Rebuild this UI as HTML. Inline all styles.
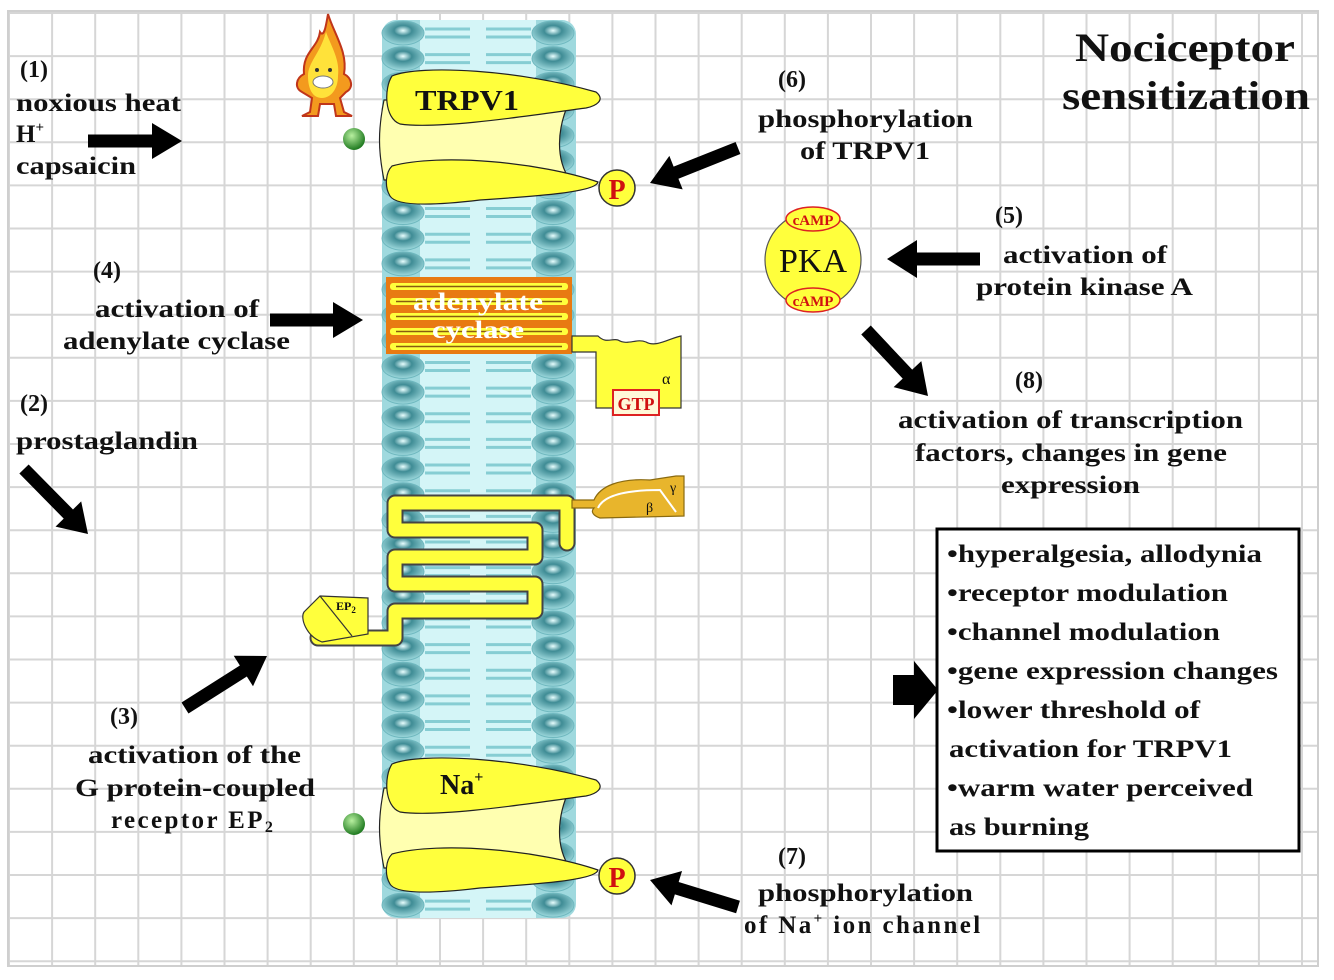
<!DOCTYPE html>
<html><head><meta charset="utf-8"><style>
html,body{margin:0;padding:0;background:#fff;}
svg{display:block;}
text{font-family:"Liberation Serif",serif;font-weight:bold;fill:#111;}
</style></head><body>
<svg id="s" width="1334" height="980" viewBox="0 0 1334 980" xmlns="http://www.w3.org/2000/svg">
<defs>
<radialGradient id="hd" cx="50%" cy="40%" r="60%">
<stop offset="0" stop-color="#e8ffff"/><stop offset="0.35" stop-color="#3f8c95"/><stop offset="1" stop-color="#9fdade"/>
</radialGradient>
<radialGradient id="gr" cx="40%" cy="35%" r="65%"><stop offset="0" stop-color="#b8f0a0"/><stop offset="1" stop-color="#1f7a20"/></radialGradient>
</defs>
<rect x="0" y="0" width="1334" height="980" fill="#fff"/>
<g id="grid" stroke="#d6d6d6" stroke-width="2"></g>
<rect x="8" y="11" width="1310" height="955" fill="none" stroke="#cfcfcf" stroke-width="2"/>

<rect x="382" y="20" width="194" height="898" rx="14" fill="#9fd9de"/>
<rect x="420" y="20" width="116" height="898" fill="#d4f5f7"/>
<g id="mem"></g>

<g transform="translate(288,12)">
<path d="M40,2 C46,22 60,40 56,62 C64,66 66,76 58,80 L52,86 L56,100 L64,104 L48,104 L46,92 L32,92 L30,104 L14,104 L22,100 L24,86 L14,80 C6,76 8,66 16,62 C14,40 30,36 32,20 C36,26 38,14 40,2Z" fill="#f39a1e" stroke="#c0351a" stroke-width="2"/>
<path d="M38,20 C44,36 52,48 50,64 C50,78 42,86 34,86 C24,86 20,76 20,64 C20,50 32,42 38,20Z" fill="#ffe23a"/>
<ellipse cx="35" cy="70" rx="10" ry="6" fill="#fff" stroke="#777"/>
<circle cx="29" cy="58" r="2" fill="#333"/><circle cx="42" cy="58" r="2" fill="#333"/>
</g>

<g id="ch1">
<path d="M384,100 L570,100 C556,130 556,160 570,180 L384,180 C378,150 378,130 384,100Z" fill="#ffffb0" stroke="#222" stroke-width="1.2"/>
<path d="M392,76 C420,64 520,70 596,92 C606,100 596,106 586,108 C540,114 440,130 400,124 C384,118 384,88 392,76Z" fill="#ffff3c" stroke="#222" stroke-width="1.2"/>
<path d="M392,166 C440,153 540,162 598,182 C596,192 540,196 480,200 C430,206 396,206 390,196 C384,186 386,172 392,166Z" fill="#ffff3c" stroke="#222" stroke-width="1.2"/>
<text x="415" y="110" font-size="28" textLength="104" lengthAdjust="spacingAndGlyphs">TRPV1</text>
<circle cx="617" cy="188" r="18" fill="#ffff3c" stroke="#333" stroke-width="1.5"/>
<text x="617" y="199" font-size="28" text-anchor="middle" style="fill:#d01010">P</text>
<circle cx="354" cy="139" r="11" fill="url(#gr)"/>
</g>
<g transform="translate(0,688)">
<path d="M384,100 L570,100 C556,130 556,160 570,180 L384,180 C378,150 378,130 384,100Z" fill="#ffffb0" stroke="#222" stroke-width="1.2"/>
<path d="M392,76 C420,64 520,70 596,92 C606,100 596,106 586,108 C540,114 440,130 400,124 C384,118 384,88 392,76Z" fill="#ffff3c" stroke="#222" stroke-width="1.2"/>
<path d="M392,166 C440,153 540,162 598,182 C596,192 540,196 480,200 C430,206 396,206 390,196 C384,186 386,172 392,166Z" fill="#ffff3c" stroke="#222" stroke-width="1.2"/>
<text x="440" y="106" font-size="28">Na<tspan font-size="16" dy="-12">+</tspan></text>
<circle cx="617" cy="188" r="18" fill="#ffff3c" stroke="#333" stroke-width="1.5"/>
<text x="617" y="199" font-size="28" text-anchor="middle" style="fill:#d01010">P</text>
<circle cx="354" cy="136" r="11" fill="url(#gr)"/>
</g>

<rect x="386" y="277" width="186" height="77" fill="#e87a12"/>
<g id="ac"></g>
<text x="478" y="310" font-size="25" text-anchor="middle" style="fill:#fff" textLength="130" lengthAdjust="spacingAndGlyphs">adenylate</text>
<text x="478" y="338" font-size="25" text-anchor="middle" style="fill:#fff" textLength="92" lengthAdjust="spacingAndGlyphs">cyclase</text>
<path d="M572,336 L598,336 C606,344 612,338 618,340 C628,346 636,338 646,342 C656,348 670,338 681,336 L681,408 L596,408 L596,352 L572,352Z" fill="#ffff3c" stroke="#333" stroke-width="1.2"/>
<text x="662" y="384" font-size="16" style="font-weight:normal">α</text>
<rect x="613" y="390" width="46" height="25" fill="#fff8d8" stroke="#d22" stroke-width="2"/>
<text x="636" y="410" font-size="18" text-anchor="middle" style="fill:#d01010">GTP</text>

<path d="M567,543 L567,503 L395,503 L395,530 L535,530 L535,557 L395,557 L395,584 L535,584 L535,611 L395,611 L395,638 L318,638" fill="none" stroke="#444" stroke-width="17" stroke-linejoin="round" stroke-linecap="round"/>
<path d="M567,543 L567,503 L395,503 L395,530 L535,530 L535,557 L395,557 L395,584 L535,584 L535,611 L395,611 L395,638 L318,638" fill="none" stroke="#ffff3c" stroke-width="13" stroke-linejoin="round" stroke-linecap="round"/>
<path d="M320,596 L368,598 L368,634 L322,642 C306,636 300,618 304,612Z" fill="#ffff3c" stroke="#333" stroke-width="1.2"/>
<path d="M320,596 L352,636" stroke="#333" stroke-width="1.2"/>
<text x="336" y="610" font-size="12">EP<tspan font-size="9" dy="3">2</tspan></text>
<path d="M572,500 L594,500 C600,486 620,478 650,480 L676,476 L684,476 L684,516 L600,518 C594,516 590,512 594,508 L572,508Z" fill="#e8b52c" stroke="#8a6a10" stroke-width="1.2"/>
<path d="M598,508 C604,494 630,490 660,490 L676,512" fill="none" stroke="#fff" stroke-width="2"/>
<text x="646" y="512" font-size="14" style="font-weight:normal">β</text>
<text x="670" y="492" font-size="14" style="font-weight:normal">γ</text>

<circle cx="813" cy="260" r="48" fill="#ffff3c" stroke="#555" stroke-width="1.2"/>
<ellipse cx="813" cy="219" rx="27" ry="12" fill="#ffff3c" stroke="#d22" stroke-width="1.5"/>
<ellipse cx="813" cy="300" rx="27" ry="12" fill="#ffff3c" stroke="#d22" stroke-width="1.5"/>
<text x="813" y="225" font-size="15" text-anchor="middle" style="fill:#d01010">cAMP</text>
<text x="813" y="306" font-size="15" text-anchor="middle" style="fill:#d01010">cAMP</text>
<text x="813" y="272" font-size="34" text-anchor="middle" style="font-weight:normal">PKA</text>

<g id="arrows" fill="#000"></g>
<rect x="937" y="529" width="362" height="322" fill="#fff" stroke="#000" stroke-width="3"/>

<g font-size="25">
<text x="20" y="77" font-size="24">(1)</text>
<text x="16" y="111" textLength="165" lengthAdjust="spacingAndGlyphs">noxious heat</text>
<text x="16" y="142">H<tspan font-size="15" dy="-10">+</tspan></text>
<text x="16" y="174" textLength="120" lengthAdjust="spacingAndGlyphs">capsaicin</text>
<text x="93" y="278" font-size="24">(4)</text>
<text x="95" y="317" textLength="164" lengthAdjust="spacingAndGlyphs">activation of</text>
<text x="63" y="349" textLength="227" lengthAdjust="spacingAndGlyphs">adenylate cyclase</text>
<text x="20" y="411" font-size="24">(2)</text>
<text x="16" y="449" textLength="182" lengthAdjust="spacingAndGlyphs">prostaglandin</text>
<text x="110" y="724" font-size="24">(3)</text>
<text x="88" y="763" textLength="213" lengthAdjust="spacingAndGlyphs">activation of the</text>
<text x="75" y="796" textLength="240" lengthAdjust="spacingAndGlyphs">G protein-coupled</text>
<text x="111" y="828" letter-spacing="2.4">receptor EP<tspan font-size="16" dy="4">2</tspan></text>
<text x="778" y="87" font-size="24">(6)</text>
<text x="758" y="127" textLength="215" lengthAdjust="spacingAndGlyphs">phosphorylation</text>
<text x="800" y="159" textLength="130" lengthAdjust="spacingAndGlyphs">of TRPV1</text>
<text x="995" y="223" font-size="24">(5)</text>
<text x="1003" y="263" textLength="164" lengthAdjust="spacingAndGlyphs">activation of</text>
<text x="976" y="295" textLength="217" lengthAdjust="spacingAndGlyphs">protein kinase A</text>
<text x="1015" y="388" font-size="24">(8)</text>
<text x="898" y="428" textLength="345" lengthAdjust="spacingAndGlyphs">activation of transcription</text>
<text x="915" y="461" textLength="312" lengthAdjust="spacingAndGlyphs">factors, changes in gene</text>
<text x="1001" y="493" textLength="139" lengthAdjust="spacingAndGlyphs">expression</text>
<text x="778" y="864" font-size="24">(7)</text>
<text x="758" y="901" textLength="215" lengthAdjust="spacingAndGlyphs">phosphorylation</text>
<text x="744" y="933" letter-spacing="2.4">of Na<tspan font-size="15" dy="-10">+</tspan><tspan dy="10"> ion channel</tspan></text>
<text x="1075" y="61" font-size="40" textLength="220" lengthAdjust="spacingAndGlyphs">Nociceptor</text>
<text x="1062" y="109" font-size="40" textLength="248" lengthAdjust="spacingAndGlyphs">sensitization</text>
<text x="947" y="562" textLength="315" lengthAdjust="spacingAndGlyphs">•hyperalgesia, allodynia</text>
<text x="947" y="601" textLength="281" lengthAdjust="spacingAndGlyphs">•receptor modulation</text>
<text x="947" y="640" textLength="273" lengthAdjust="spacingAndGlyphs">•channel modulation</text>
<text x="947" y="679" textLength="331" lengthAdjust="spacingAndGlyphs">•gene expression changes</text>
<text x="947" y="718" textLength="253" lengthAdjust="spacingAndGlyphs">•lower threshold of</text>
<text x="949" y="757" textLength="283" lengthAdjust="spacingAndGlyphs">activation for TRPV1</text>
<text x="947" y="796" textLength="306" lengthAdjust="spacingAndGlyphs">•warm water perceived</text>
<text x="949" y="835" textLength="140" lengthAdjust="spacingAndGlyphs">as burning</text>
</g>
</svg>
<script>
var NS="http://www.w3.org/2000/svg";
function el(p,t,a){var e=document.createElementNS(NS,t);for(var k in a)e.setAttribute(k,a[k]);p.appendChild(e);return e;}
var g=document.getElementById("grid");
for(var x=9;x<1320;x+=43.1)el(g,"line",{x1:x,y1:11,x2:x,y2:966});
for(var y=13;y<966;y+=43.1)el(g,"line",{x1:8,y1:y,x2:1318,y2:y});
var m=document.getElementById("mem");
for(var i=0;i<35;i++){var y=33+i*25.65;
 [[425,470],[486,531]].forEach(function(r){el(m,"line",{x1:r[0],y1:y-4,x2:r[1],y2:y-4,stroke:"#86cdd3","stroke-width":3});el(m,"line",{x1:r[0],y1:y+4,x2:r[1],y2:y+4,stroke:"#86cdd3","stroke-width":3});});
 el(m,"ellipse",{cx:403,cy:y,rx:21,ry:12,fill:"url(#hd)",stroke:"#6fb8bf","stroke-width":1});
 el(m,"ellipse",{cx:553,cy:y,rx:21,ry:12,fill:"url(#hd)",stroke:"#6fb8bf","stroke-width":1});
}
var ac=document.getElementById("ac");
for(var j=0;j<5;j++){var y=283+j*15;
 el(ac,"rect",{x:390,y:y,width:178,height:7,rx:3,fill:"#ffff3c"});
 el(ac,"line",{x1:396,y1:y+3.5,x2:562,y2:y+3.5,stroke:"#8a5a10","stroke-width":1.5});}
var A=document.getElementById("arrows");
function arrow(x1,y1,x2,y2,sw,hw,hl){var dx=x2-x1,dy=y2-y1,L=Math.hypot(dx,dy),ux=dx/L,uy=dy/L,px=-uy,py=ux;
 var bx=x2-ux*hl,by=y2-uy*hl;
 var pts=[[x1+px*sw/2,y1+py*sw/2],[bx+px*sw/2,by+py*sw/2],[bx+px*hw/2,by+py*hw/2],[x2,y2],[bx-px*hw/2,by-py*hw/2],[bx-px*sw/2,by-py*sw/2],[x1-px*sw/2,y1-py*sw/2]];
 el(A,"polygon",{points:pts.map(function(p){return p.join(",")}).join(" ")});}
arrow(88,141,182,141,13,36,30);
arrow(24,469,88,534,13,36,28);
arrow(185,708,267,656,13,36,28);
arrow(270,320,363,320,13,36,30);
arrow(980,259,887,259,13,38,30);
arrow(738,148,650,183,13,36,28);
arrow(738,907,650,880,13,36,28);
arrow(866,330,928,396,13,38,30);
arrow(893,690,938,690,30,58,24);
</script>
</body></html>
